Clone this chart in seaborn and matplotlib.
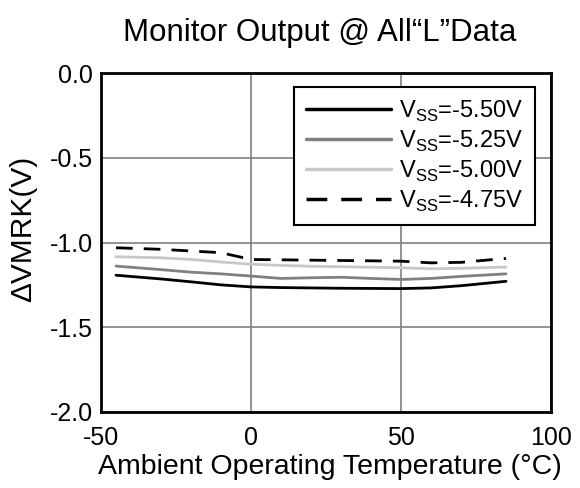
import matplotlib
matplotlib.use("Agg")
import matplotlib.pyplot as plt
import seaborn as sns
import pandas as pd

temps = [-45, -30, -20, -10, 0, 10, 20, 30, 40, 50, 60, 70, 85]
vss_550 = [-1.193, -1.215, -1.232, -1.250, -1.262, -1.266, -1.268, -1.270, -1.271, -1.272, -1.268, -1.255, -1.229]
vss_525 = [-1.139, -1.160, -1.175, -1.185, -1.198, -1.212, -1.208, -1.205, -1.212, -1.218, -1.212, -1.200, -1.185]
vss_500 = [-1.084, -1.090, -1.100, -1.115, -1.128, -1.135, -1.140, -1.143, -1.146, -1.149, -1.155, -1.152, -1.145]
vss_475 = [-1.031, -1.040, -1.050, -1.060, -1.100, -1.102, -1.104, -1.106, -1.108, -1.110, -1.120, -1.117, -1.094]
labels = ["V$_{\\mathregular{SS}}$=-5.50V", "V$_{\\mathregular{SS}}$=-5.25V",
          "V$_{\\mathregular{SS}}$=-5.00V", "V$_{\\mathregular{SS}}$=-4.75V"]
series = [vss_550, vss_525, vss_500, vss_475]
colors = ["#000000", "#808080", "#c8c8c8", "#000000"]
styles = ["-", "-", "-", "--"]

rows = []
for lab, vals in zip(labels, series):
    for t, v in zip(temps, vals):
        rows.append({"temp": t, "val": v, "series": lab})
df = pd.DataFrame(rows)

sns.set_style("white")
plt.rcParams["font.family"] = ["Liberation Sans", "DejaVu Sans"]
plt.rcParams["mathtext.fontset"] = "custom"
plt.rcParams["mathtext.rm"] = "Liberation Sans"
plt.rcParams["text.color"] = "black"
plt.rcParams["axes.labelcolor"] = "black"
plt.rcParams["xtick.color"] = "black"
plt.rcParams["ytick.color"] = "black"
plt.rcParams["axes.unicode_minus"] = False

fig = plt.figure(figsize=(5.8, 4.88), dpi=100)
ax = fig.add_axes([0.1741, 0.156, 0.7759, 0.694])

for lab, c, ls in zip(labels, colors, styles):
    sub = df[df["series"] == lab]
    line = sns.lineplot(data=sub, x="temp", y="val", ax=ax, color=c,
                        linewidth=2, label=lab).lines[-1]
    if ls == "--":
        line.set_dashes((6, 4))

ax.set_xlim(-50, 100)
ax.set_ylim(-2.0, 0.0)
ax.set_xticks([-50, 0, 50, 100])
ax.set_xticklabels(["-50", "0", "50", "100"])
ax.set_yticks([-2.0, -1.5, -1.0, -0.5, 0.0])
ax.set_yticklabels(["-2.0", "-1.5", "-1.0", "-0.5", "0.0"])
ax.grid(True, color="#808080", linewidth=1.2)
ax.tick_params(length=0, labelsize=18, colors="black")
ax.tick_params(axis="x", pad=10)
ax.tick_params(axis="y", pad=6)
for s in ax.spines.values():
    s.set_linewidth(2)
    s.set_color("black")
ax.set_xlabel("Ambient Operating Temperature (°C)", fontsize=20.5)
ax.xaxis.set_label_coords(0.509, -0.125)
ax.set_ylabel("ΔVMRK(V)", fontsize=21.5)
ax.yaxis.set_label_coords(-0.142, 0.54)
fig.text(0.552, 0.932, "Monitor Output @ All“L”Data", fontsize=22.5,
         ha="center", va="center")

leg = ax.legend(loc="upper right", bbox_to_anchor=(0.965, 0.96), fontsize=17,
                frameon=True, fancybox=False, edgecolor="black", framealpha=1,
                handlelength=3.6, handletextpad=0.35, borderpad=0.5,
                labelspacing=0.2, borderaxespad=0)
leg.get_frame().set_linewidth(1.5)
for h in leg.get_lines():
    h.set_linewidth(2.5)

fig.savefig("out.png", dpi=100)
